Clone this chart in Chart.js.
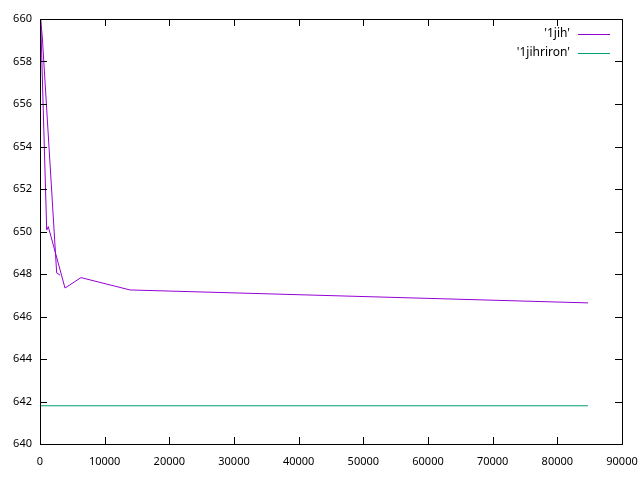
<!DOCTYPE html>
<html><head><meta charset="utf-8">
<script src="https://cdn.jsdelivr.net/npm/chart.js@4"></script>
<style>html,body{margin:0;padding:0;background:#fff}#wrap{width:640px;height:480px}</style>
</head><body><div id="wrap"><canvas id="c" width="640" height="480"></canvas></div>
<script>
const seriesNames = ["'1jih'", "'1jihriron'"];
const jihX = [3090, 2580, 356, 108, 1036, 1283, 3866, 6340, 13917, 84738];
const jihY = [647.95, 648.05, 659.15, 659.95, 650.07, 650.23, 647.34, 647.83, 647.25, 646.64];
const jihrironX = [0, 84738];
const jihrironY = [641.8, 641.8];
const xTickValues = [0, 10000, 20000, 30000, 40000, 50000, 60000, 70000, 80000, 90000];
const yTickValues = [640, 642, 644, 646, 648, 650, 652, 654, 656, 658, 660];
const colors = ['#9400d3', '#009e73'];
const FONT = '"Noto Sans", sans-serif';

const toPts = (xs, ys) => xs.map((x, i) => ({x: x, y: ys[i]}));

const frame = {
  id: 'frame',
  afterDraw(chart) {
    const ctx = chart.ctx, a = chart.chartArea;
    const xs = chart.scales.x, ys = chart.scales.y;
    ctx.save();
    ctx.strokeStyle = '#000';
    ctx.lineWidth = 1;
    ctx.beginPath();
    const L = 7;
    yTickValues.forEach(v => {
      const p = Math.round(ys.getPixelForValue(v)) + 0.5;
      ctx.moveTo(a.left, p); ctx.lineTo(a.left + L, p);
      ctx.moveTo(a.right, p); ctx.lineTo(a.right - L, p);
    });
    xTickValues.forEach(v => {
      const p = Math.round(xs.getPixelForValue(v)) + 0.5;
      ctx.moveTo(p, a.bottom); ctx.lineTo(p, a.bottom - L);
      ctx.moveTo(p, a.top); ctx.lineTo(p, a.top + L);
    });
    ctx.stroke();
    ctx.strokeRect(Math.round(a.left) + 0.5, Math.round(a.top) + 0.5, Math.round(a.right - a.left), Math.round(a.bottom - a.top));
    // legend
    ctx.font = '12px ' + FONT;
    ctx.textAlign = 'right';
    ctx.textBaseline = 'middle';
    chart.data.datasets.forEach((ds, i) => {
      const y = 34 + i * 19;
      ctx.fillStyle = '#000';
      ctx.fillText(ds.label, 570, y);
      ctx.strokeStyle = ds.borderColor;
      ctx.beginPath();
      ctx.moveTo(578, y + 0.5); ctx.lineTo(610, y + 0.5);
      ctx.stroke();
    });
    ctx.restore();
  }
};

new Chart(document.getElementById('c'), {
  type: 'line',
  data: {
    datasets: [
      {label: seriesNames[0], data: toPts(jihX, jihY), borderColor: colors[0], borderWidth: 1, pointRadius: 0, fill: false, tension: 0},
      {label: seriesNames[1], data: toPts(jihrironX, jihrironY), borderColor: colors[1], borderWidth: 1, pointRadius: 0, fill: false, tension: 0}
    ]
  },
  options: {
    responsive: false,
    animation: false,
    devicePixelRatio: 1,
    layout: {padding: {top: 19, right: 18, left: 0, bottom: 0}},
    plugins: {legend: {display: false}, tooltip: {enabled: false}},
    scales: {
      x: {
        type: 'linear', min: 0, max: 90000,
        afterBuildTicks: s => { s.ticks = xTickValues.map(v => ({value: v})); },
        afterFit: s => { s.height = 36; s.paddingRight = 0; s.paddingLeft = 0; },
        grid: {display: false, drawTicks: false},
        border: {display: false},
        ticks: {color: '#000', font: {family: FONT, size: 11}, padding: 11, maxRotation: 0, autoSkip: false, callback: v => String(v)}
      },
      y: {
        type: 'linear', min: 640, max: 660,
        afterBuildTicks: s => { s.ticks = yTickValues.map(v => ({value: v})); },
        afterFit: s => { s.width = 40; s.paddingTop = 0; s.paddingBottom = 0; },
        grid: {display: false, drawTicks: false},
        border: {display: false},
        ticks: {color: '#000', font: {family: FONT, size: 11}, padding: 8, autoSkip: false, callback: v => String(v)}
      }
    }
  },
  plugins: [frame]
});
</script>
</body></html>
